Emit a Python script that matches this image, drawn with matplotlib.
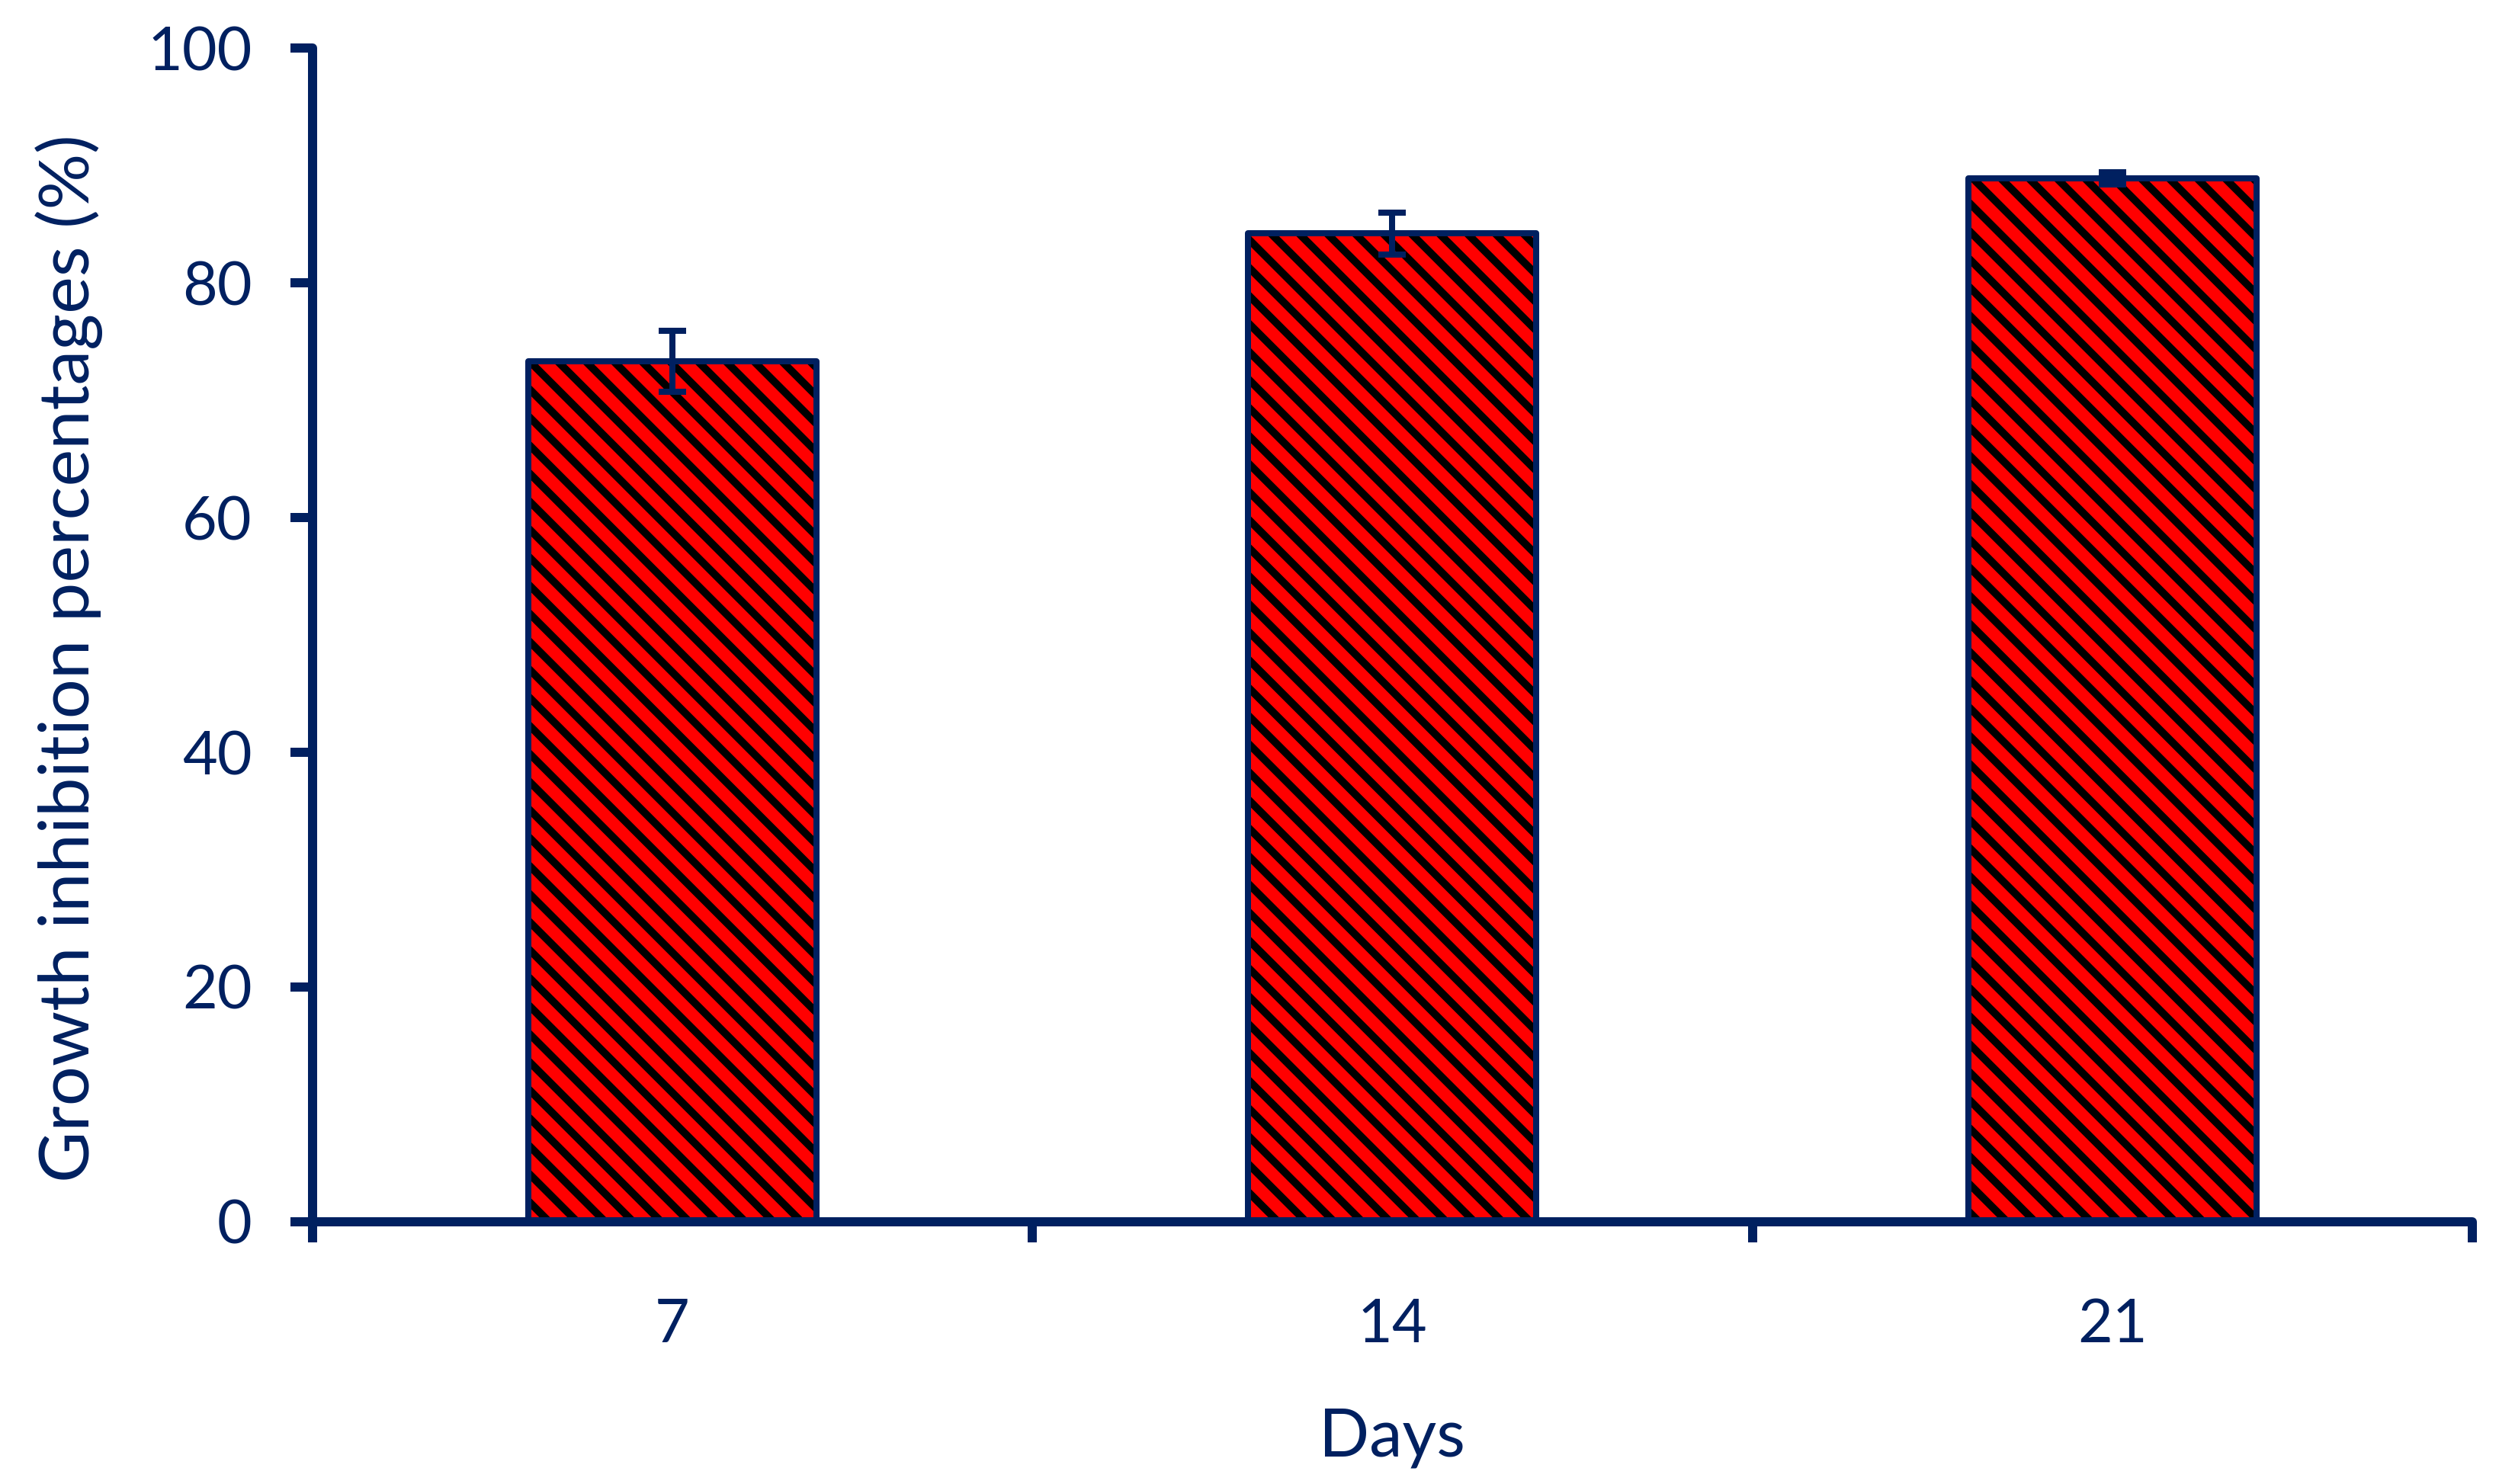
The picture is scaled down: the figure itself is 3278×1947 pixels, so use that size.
import matplotlib.pyplot as plt
import numpy as np

days = ['7', '14', '21']
inhibition = [73.3, 84.2, 88.9]
sd = [2.6, 1.8, 0.5]

navy = '#002060'
DPI = 331


def px(v):
    # pixel size -> points at the output dpi
    return v * 72 / DPI


plt.rcParams['font.family'] = ['Lato', 'DejaVu Sans']
plt.rcParams['hatch.linewidth'] = px(10)

fig = plt.figure(figsize=(3278 / DPI, 1947 / DPI), dpi=DPI)
ax = fig.add_axes([0.125, 0.1767, 0.8643, 0.7909])

x = np.arange(len(days))
ax.bar(x, inhibition, width=0.4, color='red', edgecolor='black',
       hatch='\\\\\\', linewidth=0, zorder=2)
ax.bar(x, inhibition, width=0.4, fill=False, edgecolor=navy,
       linewidth=px(8), joinstyle='round', zorder=3)
ax.errorbar(x, inhibition, yerr=sd, fmt='none', ecolor=navy,
            elinewidth=px(8), capsize=px(18), capthick=px(8), zorder=4)

ax.set_xlim(-0.5, 2.5)
ax.set_ylim(0, 100)
ax.set_yticks(range(0, 101, 20))

# category labels between tick marks
ax.set_xticks([-0.5, 0.5, 1.5, 2.5])
ax.set_xticklabels([])
ax.set_xticks(x, minor=True)
ax.set_xticklabels(days, minor=True)

for s in ['top', 'right']:
    ax.spines[s].set_visible(False)
for s in ['left', 'bottom']:
    ax.spines[s].set_color(navy)
    ax.spines[s].set_linewidth(px(12))
    ax.spines[s].set_capstyle('round')

ax.tick_params(axis='y', which='major', direction='out', length=px(29),
               width=px(12), color=navy, labelcolor=navy, labelsize=px(79),
               pad=px(50))
ax.tick_params(axis='x', which='major', direction='out', length=px(27),
               width=px(12), color=navy)
ax.tick_params(axis='x', which='minor', length=0, labelcolor=navy,
               labelsize=px(79), pad=px(100))

ax.set_xlabel('Days', color=navy, fontsize=px(87), labelpad=px(72))
ax.set_ylabel('Growth inhibition percentages (%)', color=navy,
              fontsize=px(92), labelpad=px(58))
ax.yaxis.label.set_y(0.48)

fig.savefig('out.png', dpi=DPI)
